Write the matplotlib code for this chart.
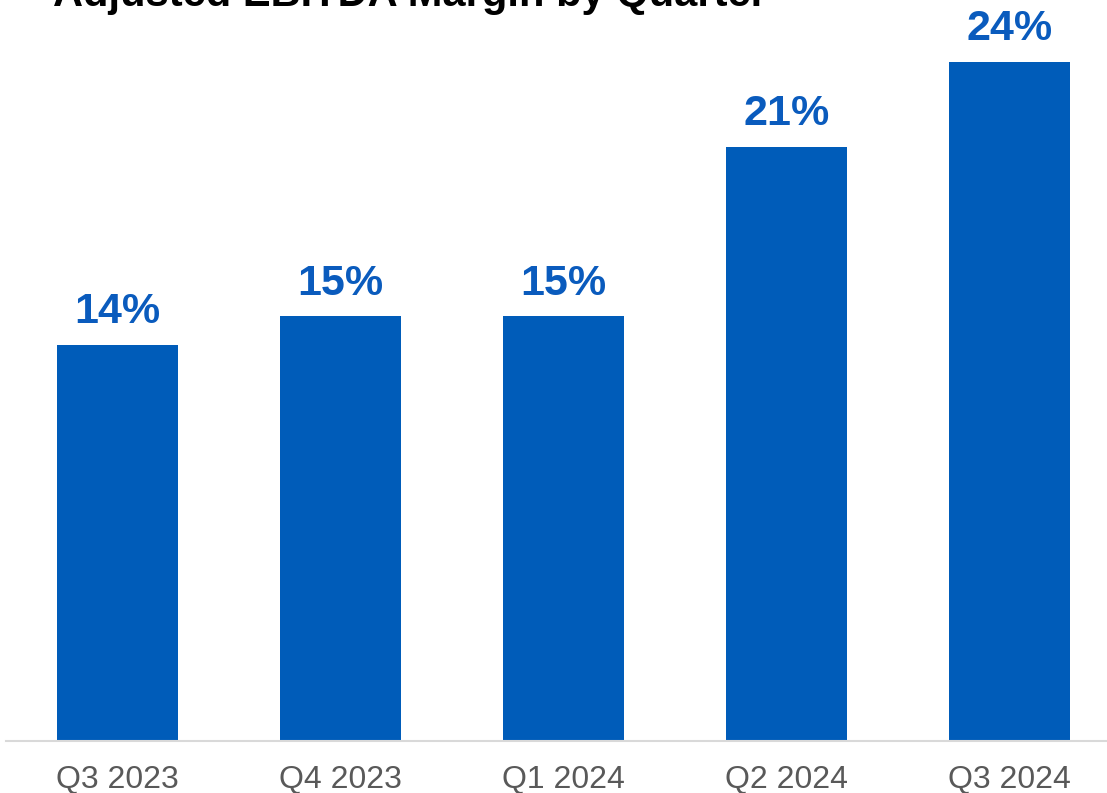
import matplotlib
matplotlib.use('Agg')
import matplotlib.pyplot as plt

quarters = ['Q3 2023', 'Q4 2023', 'Q1 2024', 'Q2 2024', 'Q3 2024']
margin = [14, 15, 15, 21, 24]
labels = ['14%', '15%', '15%', '21%', '24%']

plt.rcParams['font.family'] = ['Liberation Sans', 'DejaVu Sans']

fig = plt.figure(figsize=(11.07, 7.93), dpi=100)
ax = fig.add_axes([6 / 1107, 52 / 793, 1 - 6 / 1107, 1 - 52 / 793])

x = list(range(len(quarters)))
bars = ax.bar(x, margin, width=0.543, color='#005CB9', zorder=2)

for b, lab in zip(bars, labels):
    ax.annotate(lab, (b.get_x() + b.get_width() / 2, b.get_height()),
                xytext=(0, 9), textcoords='offset points',
                ha='center', va='bottom', fontsize=31, fontweight='bold',
                color='#0A5BBD')

ax.set_xlim(-0.5, 4.437)
ax.set_ylim(0, 26.18)
ax.set_xticks(x)
ax.set_xticklabels(quarters, fontsize=23, color='#595959')
ax.tick_params(axis='x', length=0, pad=17)
ax.set_yticks([])
for s in ['top', 'right', 'left']:
    ax.spines[s].set_visible(False)
ax.spines['bottom'].set_color('#D9D9D9')
ax.spines['bottom'].set_linewidth(1.5)
ax.spines['bottom'].set_zorder(3)

fig.text(53 / 1107, 1 - 6 / 793, 'Adjusted EBITDA Margin by Quarter',
         fontsize=30, fontweight='bold', color='black',
         ha='left', va='baseline')

fig.savefig('out.png', dpi=100)
